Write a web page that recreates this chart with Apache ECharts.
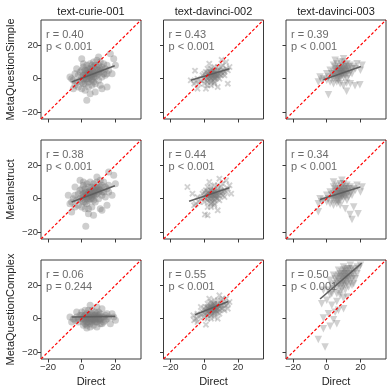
<!DOCTYPE html>
<html>
<head>
<meta charset="utf-8">
<script src="https://cdn.jsdelivr.net/npm/echarts@6/dist/echarts.min.js"></script>
<style>
  html, body { margin: 0; padding: 0; background: #fff; }
  #chart { width: 391px; height: 392px; }
</style>
</head>
<body>
<div id="chart"></div>
<script>
// ---- data ----
const models = ['text-curie-001', 'text-davinci-002', 'text-davinci-003'];
const prompts = ['MetaQuestionSimple', 'MetaInstruct', 'MetaQuestionComplex'];
const tickValues = [-20, 0, 20];
const axisRange = [-24.2, 35.2];
const rValues = [['0.40', '0.43', '0.39'], ['0.38', '0.44', '0.34'], ['0.06', '0.55', '0.50']];
const pValues = [['< 0.001', '< 0.001', '< 0.001'], ['< 0.001', '< 0.001', '< 0.001'], ['= 0.244', '< 0.001', '< 0.001']];

const curieSimple = [[2,1],[3,2],[4,0],[5,3],[6,2],[7,4],[8,3],[4,4],[5,1],[6,5],[3,-1],[2,3],[7,1],[8,6],[9,4],[10,5],[1,0],[0,-2],[1,2],[3,5],[5,6],[6,-1],[7,7],[9,2],[10,3],[11,6],[4,-2],[2,-3],[6,0],[8,1],[5,4],[4,2],[3,3],[7,3],[6,3],[5,2],[9,7],[11,4],[12,5],[0,1],[-1,-1],[1,-3],[8,8],[10,8],[12,7],[2,5],[4,6],[6,8],[3,0],[7,-2],
  [-3,-2],[-5,-1],[-6,0],[-4,-4],[-2,2],[-1,4],[0,5],[1,7],[-2,-5],[0,-6],[2,-7],[4,-5],[6,-4],[8,-3],[10,-1],[12,1],[13,3],[14,6],[15,8],[14,2],[13,9],[11,10],[9,11],[7,10],[5,9],[3,8],[1,9],[16,5],[15,3],[-4,3],[-7,1],
  [3,-13],[20,8],[19,12],[17,15],[10,13],[15,-5],[11,-4],[0,12],[-3,6],[5,-9],[8,-8],[12,-6],[18,3],[-5,-6]];
const davinci2Simple = [[3,1],[4,2],[5,1],[6,3],[5,2],[4,0],[6,1],[7,2],[3,3],[2,0],[5,4],[6,0],[7,4],[8,3],[4,3],[3,-1],[5,-1],[6,2],[7,1],[8,2],[2,2],[1,1],[4,1],[5,3],[6,4],[9,3],[9,5],[10,4],[3,4],[2,-2],[4,-2],[7,0],[8,5],[1,-1],[0,0],[6,5],[5,5],[10,2],[11,5],[3,2],[4,4],[7,3],[8,1],[6,-2],[2,3],
  [-2,-1],[-3,-3],[-1,2],[0,3],[1,4],[0,-3],[2,-4],[4,-4],[6,-3],[9,0],[11,3],[12,4],[13,6],[12,2],[10,7],[8,7],[6,7],[4,6],[2,6],[-4,0],[-5,-2],[14,5],[11,8],
  [-8,-1],[-5.5,4.8],[-6,-3],[-4,-6],[15,7],[14,-3],[13,10],[10.3,11.3],[3,9],[1,-6],[8,-5]];
const davinci3Simple = [[6,2],[7,3],[8,4],[9,3],[10,5],[7,1],[8,2],[9,4],[6,4],[5,3],[10,3],[11,4],[8,5],[7,5],[9,6],[6,0],[5,1],[4,2],[11,6],[12,5],[10,1],[9,2],[8,0],[7,6],[6,6],[5,5],[12,3],[13,5],[11,2],[4,0],[3,1],[8,7],[10,7],[9,8],[7,-1],[6,-2],[12,7],[13,7],[11,8],[5,7],[4,4],[3,3],[8,3],[9,5],[10,4],
  [0,-1],[1,1],[2,-2],[-2,0],[-3,-1],[0,3],[2,5],[4,8],[6,9],[8,10],[10,10],[12,9],[14,8],[15,6],[16,7],[14,4],[13,2],[12,0],[15,3],[17,6],[4,-3],[8,-3],[18,9],
  [-5,-2],[-4,1],[1,-9.6],[9.9,-4.2],[11.8,-7.6],[16.8,-4.2],[19.7,-3.6],[11.8,-2.6],[21,8],[20,5],[10,12],[5,11],[14,-3]];

const curieInstruct = [[2,2],[3,1],[4,3],[5,2],[6,4],[7,3],[8,5],[4,1],[5,4],[6,2],[3,0],[2,4],[7,2],[8,4],[9,3],[10,6],[1,1],[0,-1],[1,3],[3,4],[5,5],[6,0],[7,6],[9,5],[10,4],[11,5],[4,-1],[2,-2],[6,1],[8,2],[5,3],[4,4],[3,2],[7,4],[6,3],[5,0],[9,6],[11,7],[12,4],[0,2],[-1,0],[1,-2],[8,7],[10,7],[12,8],[2,6],[4,7],[6,7],[3,-3],[7,-1],
  [-3,-1],[-5,0],[-6,-2],[-4,-5],[-2,3],[-1,5],[0,6],[1,8],[-2,-4],[0,-5],[2,-6],[4,-6],[6,-5],[8,-2],[10,0],[12,2],[13,4],[14,7],[15,6],[14,1],[13,10],[11,11],[9,10],[7,9],[5,10],[3,9],[1,10],[16,4],[16,8],[-4,2],[-7,-3],
  [2.4,-16.5],[20,9],[19,14],[16,16],[9,13],[15,-4],[11,-6],[-1,11],[-4,7],[4,-9],[7,-10],[12,-7],[18,2],[-6,-8],[-8,2]];
const davinci2Instruct = [[3,2],[4,1],[5,2],[6,3],[5,0],[4,3],[6,1],[7,3],[3,0],[2,1],[5,4],[6,-1],[7,4],[8,2],[4,2],[3,-2],[5,-2],[6,2],[7,1],[8,4],[2,3],[1,0],[4,0],[5,3],[6,5],[9,4],[9,2],[10,5],[3,4],[2,-1],[4,-3],[7,0],[8,6],[1,2],[0,1],[6,4],[5,5],[10,3],[11,4],[3,3],[4,5],[7,2],[8,0],[6,-3],[2,4],
  [-2,0],[-3,-2],[-1,3],[0,4],[1,5],[0,-2],[2,-5],[4,-5],[6,-4],[9,-1],[11,2],[12,5],[13,4],[12,1],[10,7],[8,8],[6,8],[4,7],[2,7],[-4,1],[-5,-3],[14,6],[11,9],
  [-10,7],[-7,3],[-6,-4],[0.4,-9.5],[2,-10],[15,8],[16,3],[13,11],[9,12],[3,10],[8,-7]];
const davinci3Instruct = [[6,1],[7,2],[8,3],[9,2],[10,4],[7,0],[8,1],[9,3],[6,3],[5,2],[10,2],[11,3],[8,4],[7,4],[9,5],[6,-1],[5,0],[4,1],[11,5],[12,4],[10,0],[9,1],[8,-1],[7,5],[6,5],[5,4],[12,2],[13,4],[11,1],[4,-1],[3,0],[8,6],[10,6],[9,7],[7,-2],[6,-3],[12,6],[13,6],[11,7],[5,6],[4,3],[3,2],[8,2],[9,4],[10,3],
  [0,-2],[1,0],[2,-3],[-2,-1],[-3,-2],[0,2],[2,4],[4,7],[6,8],[8,9],[10,9],[12,8],[14,7],[15,5],[16,6],[14,3],[13,1],[12,-1],[15,2],[17,5],[4,-4],[8,-4],[18,8],
  [-5,-3],[-4,0],[13.8,-9.5],[18.6,-9],[15,-12.5],[11,-6],[20,4],[21,7],[9,11],[4,10],[16,-5],[-5,-7.8]];

const curieComplex = [[0,0],[1,1],[2,-1],[3,0],[4,1],[5,-1],[6,0],[7,1],[8,-1],[9,0],[10,1],[11,-1],[1,-2],[2,2],[3,-2],[4,2],[5,1],[6,-2],[7,2],[8,0],[9,-2],[10,2],[11,0],[12,1],[0,2],[2,0],[4,0],[6,1],[8,1],[10,-1],[3,1],[5,0],[7,-1],[9,1],[1,0],[5,2],[6,3],[4,-2],[7,0],[8,2],[3,3],[5,-3],[9,3],[2,-3],[10,0],[6,-1],[4,1],[8,-2],
  [-2,0],[-3,1],[-4,-1],[-1,2],[-2,-2],[-5,0],[13,1],[14,-1],[13,-2],[14,2],[15,0],[12,-3],[11,3],[0,4],[2,5],[4,5],[6,5],[8,4],[10,4],[1,-4],[3,-4],[5,-5],[7,-4],[9,-5],[11,-3],[16,1],[15,3],
  [-7,1],[-6,-2],[19,1],[20,-1],[18,3],[17,-3],[5,8],[9,7],[3,-5.6],[12,6],[-3,4]];
const davinci2Complex = [[3,5],[4,6],[5,5],[6,7],[5,6],[4,4],[6,5],[7,7],[3,4],[2,4],[5,8],[6,4],[7,8],[8,6],[4,7],[3,3],[5,3],[6,6],[7,5],[8,8],[2,6],[1,3],[4,5],[5,7],[6,9],[9,7],[9,5],[10,8],[3,7],[2,2],[4,2],[7,4],[8,9],[1,5],[0,3],[6,8],[5,9],[10,6],[11,8],[3,6],[4,8],[7,6],[8,4],[6,3],[2,7],
  [-2,2],[-3,1],[-1,4],[0,6],[1,7],[0,1],[2,0],[4,0],[6,1],[9,3],[11,6],[12,9],[13,8],[12,5],[10,11],[8,11],[6,11],[4,10],[2,9],[-4,3],[-5,0],[14,9],[11,12],
  [-6.5,2],[-6,-1],[-4,-2],[1,-3.6],[15,10],[14,6],[13,12],[9,14],[3,12],[8,0],[-2,7]];
const davinci3Complex = [[8,22],[9,24],[10,25],[11,23],[12,26],[9,21],[10,23],[11,27],[12,24],[13,25],[8,25],[7,23],[10,27],[11,25],[12,28],[13,27],[14,26],[9,26],[10,22],[7,20],[8,19],[6,22],[14,29],[13,23],[12,21],[11,20],[15,27],[15,24],[9,28],[10,29],[16,28],[16,25],[7,26],[6,25],[14,22],[11,29],[12,30],[13,30],[8,27],[10,20],[5,21],[6,19],[15,30],[17,29],[9,18],
  [4,18],[3,20],[5,24],[4,26],[7,29],[10,31],[14,32],[18,31],[17,24],[16,21],[18,27],[19,30],[13,19],[8,16],[6,15],[11,17],[3,15],[1,17],[2,23],[20,32],[15,20],
  [-2,17],[0,11],[6,10.3],[2,14.3],[9.9,12.4],[5,3.8],[4,-0.6],[-2,0.4],[2,-4.6],[-2,-6],[-5,-12.5],[-1,-17],[7,5],[3,8],[10,6],[1,3],[-3,9],[8,14],[12,13],[6,-3]];

const points = [
  [curieSimple, davinci2Simple, davinci3Simple],
  [curieInstruct, davinci2Instruct, davinci3Instruct],
  [curieComplex, davinci2Complex, davinci3Complex]
];
// fitted regression line end points
const fits = [
  [[[-6,-2],[19.6,7.8]], [[-8,-1],[15,6]], [[-2,-0.6],[20.3,7.3]]],
  [[[-6,-2],[19.7,7.8]], [[-9,-1.5],[15,6.5]], [[-4,-0.5],[20,7]]],
  [[[-6,1],[20,1.4]], [[-5.5,2.4],[14.3,10.3]], [[-4,11.8],[20.8,33.3]]]
];
const diagonal = [[-24.2,-24.2],[35.2,35.2]];

// ---- layout ----
const FONT = 'Liberation Sans, Arial, sans-serif';
const gridLeft = [41, 163.5, 286];
const gridTop = [20, 140, 260];
const W = 100, H = 99;
const symbols = [
  'circle',
  'path://M0,2L2,0L5,3L8,0L10,2L7,5L10,8L8,10L5,7L2,10L0,8L3,5Z',
  'path://M0,0L10,0L5,9Z'
];
const symbolSizes = [7, 6.5, 7.5];
const pointColors = ['rgba(120,120,120,0.45)', 'rgba(120,120,120,0.42)', 'rgba(120,120,120,0.42)'];
const minus = v => String(v).replace('-', '\u2212');

let grid = [], xAxis = [], yAxis = [], series = [], graphic = [];

for (let r = 0; r < 3; r++) {
  for (let c = 0; c < 3; c++) {
    const i = r * 3 + c;
    grid.push({ left: gridLeft[c], top: gridTop[r], width: W, height: H,
      show: true, borderColor: '#3a3a3a', borderWidth: 1, backgroundColor: '#fff' });
    xAxis.push({
      gridIndex: i, type: 'value', min: axisRange[0], max: axisRange[1], position: 'bottom',
      splitLine: { show: false }, axisLine: { show: false, onZero: false },
      axisTick: { show: true, length: 3.5, customValues: tickValues, lineStyle: { color: '#3a3a3a' } },
      axisLabel: { show: r === 2, customValues: tickValues, formatter: minus, fontSize: 9.5, color: '#333', margin: 3, fontFamily: FONT },
      name: r === 2 ? 'Direct' : '', nameLocation: 'middle', nameGap: 17,
      nameTextStyle: { fontSize: 11, color: '#222', fontFamily: FONT }
    });
    yAxis.push({
      gridIndex: i, type: 'value', min: axisRange[0], max: axisRange[1], position: 'left',
      splitLine: { show: false }, axisLine: { show: false, onZero: false },
      axisTick: { show: true, length: 3.5, customValues: tickValues, lineStyle: { color: '#3a3a3a' } },
      axisLabel: { show: c === 0, customValues: tickValues, formatter: minus, fontSize: 9.5, color: '#333', margin: 3, fontFamily: FONT },
      name: c === 0 ? prompts[r] : '', nameLocation: 'middle', nameGap: 25, nameRotate: 90,
      nameTextStyle: { fontSize: 11, color: '#222', fontFamily: FONT }
    });
    series.push({
      type: 'scatter', xAxisIndex: i, yAxisIndex: i, data: points[r][c],
      symbol: symbols[c], symbolSize: symbolSizes[c],
      itemStyle: { color: pointColors[c] }, silent: true, z: 2
    });
    series.push({
      type: 'line', xAxisIndex: i, yAxisIndex: i, data: fits[r][c], symbol: 'none',
      lineStyle: { color: '#5e5e5e', width: 1.6 }, silent: true, z: 3
    });
    series.push({
      type: 'line', xAxisIndex: i, yAxisIndex: i, data: diagonal, symbol: 'none',
      lineStyle: { color: '#ff0000', width: 1.2, type: [3, 2] }, silent: true, z: 4
    });
    graphic.push({
      type: 'text', left: gridLeft[c] + 5, top: gridTop[r] + 8.5, z: 10,
      style: { text: 'r = ' + rValues[r][c] + '\np ' + pValues[r][c], fill: '#6a6a6a',
        font: '11px ' + FONT, lineHeight: 12 }
    });
  }
}
for (let c = 0; c < 3; c++) {
  graphic.push({
    type: 'text', x: gridLeft[c] + W / 2, y: 12, z: 10,
    style: { text: models[c], fill: '#222', font: '11px ' + FONT, align: 'center', verticalAlign: 'middle' }
  });
}

const chart = echarts.init(document.getElementById('chart'));
chart.setOption({
  animation: false,
  backgroundColor: '#fff',
  grid, xAxis, yAxis, series, graphic
});
</script>
</body>
</html>
